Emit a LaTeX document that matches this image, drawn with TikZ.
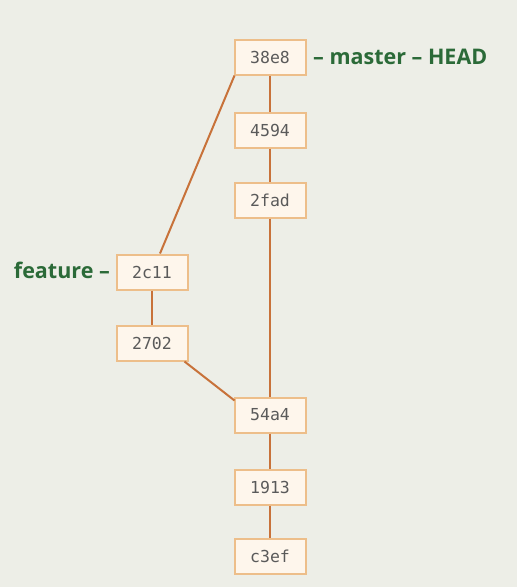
\documentclass[tikz,border=0pt]{standalone}
\usepackage{fontspec}
\setmainfont{Open Sans}
\setmonofont{DejaVu Sans Mono}
\definecolor{bg}{HTML}{EDEEE7}
\definecolor{boxfill}{HTML}{FEF6EC}
\definecolor{boxdraw}{HTML}{EDBE8A}
\definecolor{edge}{HTML}{C8723A}
\definecolor{txt}{HTML}{5A5A5A}
\definecolor{lbl}{HTML}{2B6A38}
\begin{document}
\begin{tikzpicture}[x=1pt,y=-1pt,
  commit/.style={draw=boxdraw,fill=boxfill,line width=2pt,minimum width=71pt,minimum height=35pt,inner sep=0pt,text=txt,font=\ttfamily\fontsize{16.5}{18}\selectfont},
  link/.style={draw=edge,line width=2pt},
  branch/.style={text=lbl,font=\bfseries\fontsize{21.5}{25}\selectfont,inner sep=0pt}]
\fill[bg] (0,0) rectangle (517,587);
\useasboundingbox (0,0) rectangle (517,587);
\node[commit] (a) at (270,57) {38e8};
\node[commit] (b) at (270,130) {4594};
\node[commit] (c) at (270,200) {2fad};
\node[commit] (d) at (152,272) {2c11};
\node[commit] (e) at (152,343) {2702};
\node[commit] (f) at (270,415) {54a4};
\node[commit] (g) at (270,487) {1913};
\node[commit] (h) at (270,556) {c3ef};
\draw[link] ([xshift=1pt]a.south west) -- ([xshift=8pt]d.north);
\draw[link] (a) -- (b);
\draw[link] (b) -- (c);
\draw[link] (c) -- (f);
\draw[link] (d) -- (e);
\draw[link] ([xshift=-4pt]e.south east) -- ([xshift=1pt,yshift=-4pt]f.north west);
\draw[link] (f) -- (g);
\draw[link] (g) -- (h);
\node[branch,anchor=west] (ml) at (313,57) {– master – HEAD};
\node[branch,anchor=east] (fl) at (110,270) {feature –};
\end{tikzpicture}
\end{document}
